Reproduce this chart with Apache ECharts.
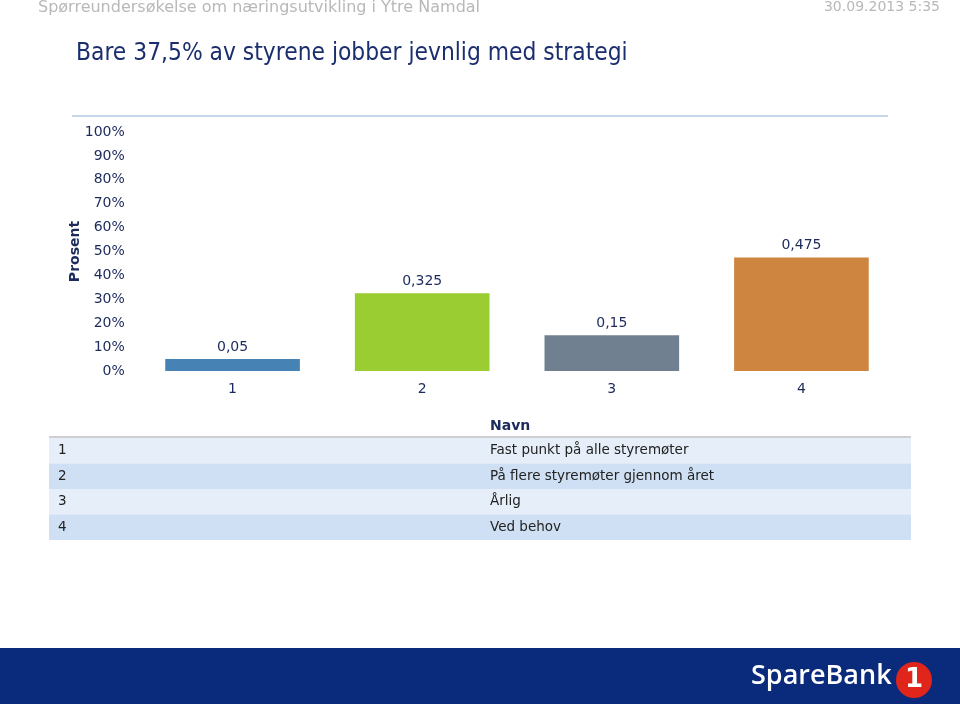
<!DOCTYPE html>
<html><head><meta charset="utf-8">
<script src="https://cdn.jsdelivr.net/npm/echarts@6/dist/echarts.min.js"></script>
<style>html,body{margin:0;padding:0;background:#fff}#c{width:960px;height:704px}</style>
</head><body><div id="c"></div>
<script>
var categories = ['1', '2', '3', '4'];
var values = [0.05, 0.325, 0.15, 0.475];
var barColors = ['#4682b4', '#9acd32', '#708090', '#cd853f'];
var tickLabels = ['0%', '10%', '20%', '30%', '40%', '50%', '60%', '70%', '80%', '90%', '100%'];
var tableIds = ['1', '2', '3', '4'];
var tableNames = ['Fast punkt på alle styremøter', 'På flere styremøter gjennom året', 'Årlig', 'Ved behov'];

var FONT = 'DejaVu Sans';
var NAVY = '#1c2a5c';
var chart = echarts.init(document.getElementById('c'), null, {renderer: 'canvas'});

var graphics = [
  {type: 'text', left: 38, top: 0, style: {text: 'Spørreundersøkelse om næringsutvikling i Ytre Namdal', font: '16px "' + FONT + '"', fill: '#b8b8b8'}},
  {type: 'text', right: 20, top: 0, style: {text: '30.09.2013 5:35', font: '14px "' + FONT + '"', fill: '#b8b8b8'}},
  {type: 'text', left: 76, top: 42, style: {text: 'Bare 37,5% av styrene jobber jevnlig med strategi', font: '24.3px "DejaVu Sans Condensed", "' + FONT + '"', fill: '#1b2f6e'}},
  {type: 'rect', shape: {x: 72, y: 115, width: 816, height: 2}, style: {fill: '#c5d8ea'}},
  {type: 'text', left: 490, top: 419, style: {text: 'Navn', font: 'bold 14px "' + FONT + '"', fill: NAVY}},
  {type: 'rect', shape: {x: 49, y: 436, width: 862, height: 2}, style: {fill: '#cfcfcf'}},
  {type: 'rect', shape: {x: 0, y: 648, width: 960, height: 56}, style: {fill: '#0a2a7c'}},
  {type: 'text', left: 751, top: 663, style: {text: 'SpareBank', font: '600 27px "Open Sans"', fill: '#ffffff'}},
  {type: 'circle', shape: {cx: 914, cy: 680, r: 18}, style: {fill: '#e0251b'}},
  {type: 'text', x: 914, y: 680, style: {text: '1', font: 'bold 26px "' + FONT + '"', fill: '#ffffff', align: 'center', verticalAlign: 'middle'}}
];
for (var i = 0; i < tableIds.length; i++) {
  var y = 438 + i * 25.5;
  graphics.push({type: 'rect', shape: {x: 49, y: y, width: 862, height: 25.5}, style: {fill: i % 2 === 0 ? '#e6eef9' : '#cfe0f4'}});
  graphics.push({type: 'text', left: 58, top: y + 5.5, style: {text: tableIds[i], font: '13.5px "' + FONT + '"', fill: '#222'}});
  graphics.push({type: 'text', left: 490, top: y + 5.5, style: {text: tableNames[i], font: '13.5px "' + FONT + '"', fill: '#222'}});
}

chart.setOption({
  animation: false,
  grid: {left: 137.75, right: 63.75, top: 132, bottom: 333},
  xAxis: {
    type: 'category', data: categories,
    axisLine: {show: false}, axisTick: {show: false},
    axisLabel: {margin: 11, color: NAVY, fontFamily: FONT, fontSize: 14}
  },
  yAxis: {
    type: 'value', min: 0, max: 1, interval: 0.1,
    name: 'Prosent', nameLocation: 'middle', nameGap: 55, nameRotate: 90, nameMoveOverlap: false,
    nameTextStyle: {color: NAVY, fontFamily: FONT, fontSize: 14, fontWeight: 'bold'},
    axisLine: {show: false}, axisTick: {show: false}, splitLine: {show: false},
    axisLabel: {margin: 13, color: NAVY, fontFamily: FONT, fontSize: 14,
      formatter: function (v) { return tickLabels[Math.round(v * 10)]; }}
  },
  series: [{
    type: 'bar', barWidth: '71%',
    data: values.map(function (v, i) { return {value: v, itemStyle: {color: barColors[i]}}; }),
    label: {show: true, position: 'top', distance: 5, color: NAVY, fontFamily: FONT, fontSize: 14,
      formatter: function (p) { return String(p.value).replace('.', ','); }}
  }],
  graphic: graphics
});
</script></body></html>
